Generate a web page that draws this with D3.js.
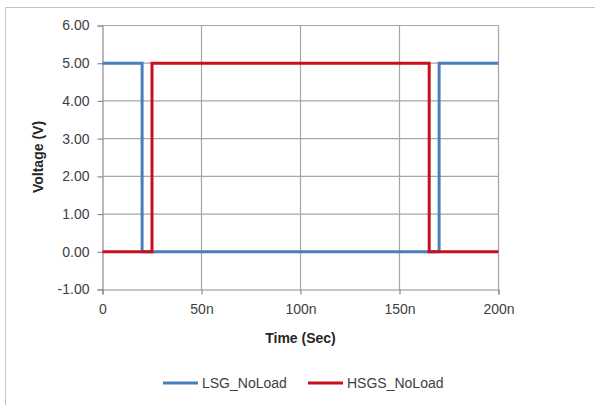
<!DOCTYPE html>
<html>
<head>
<meta charset="utf-8">
<script src="https://cdn.jsdelivr.net/npm/d3@7"></script>
<style>
  html, body { margin: 0; padding: 0; background: #fff; }
  svg { display: block; font-family: "Liberation Sans", Arial, sans-serif; }
</style>
</head>
<body>
<svg id="chart" width="595" height="405"></svg>
<script>
// Gate drive waveforms (time in ns, voltage in V)
const lsgTime    = [0, 20, 20, 170, 170, 200];
const lsgVolts   = [5, 5, 0, 0, 5, 5];
const hsgsTime   = [0, 25, 25, 165, 165, 200];
const hsgsVolts  = [0, 0, 5, 5, 0, 0];

const seriesNames  = ["LSG_NoLoad", "HSGS_NoLoad"];
const seriesColors = ["#4a7ebb", "#c8101c"];

const xTicks = [0, 50, 100, 150, 200];
const xTickLabels = ["0", "50n", "100n", "150n", "200n"];
const yTicks = [-1, 0, 1, 2, 3, 4, 5, 6];

const svg = d3.select("#chart");

// outer chart frame
svg.append("path")
  .attr("d", "M5.5,405 V7.5 H595")
  .attr("fill", "none")
  .attr("stroke", "#c4c4c4")
  .attr("stroke-width", 1);

const x = d3.scaleLinear().domain([0, 200]).range([102.5, 498.5]);
const y = d3.scaleLinear().domain([-1, 6]).range([289.5, 25.5]);

// gridlines
const grid = svg.append("g");
grid.selectAll("line.h").data(yTicks.filter(d => d > -1)).join("line")
  .attr("x1", x(0)).attr("x2", x(200))
  .attr("y1", d => y(d)).attr("y2", d => y(d))
  .attr("stroke", "#a6a6a6").attr("stroke-width", 1.2);
grid.selectAll("line.v").data(xTicks.filter(d => d > 0)).join("line")
  .attr("x1", d => x(d)).attr("x2", d => x(d))
  .attr("y1", y(-1)).attr("y2", y(6))
  .attr("stroke", "#a6a6a6").attr("stroke-width", 1.2);

// axes (plain hyphen for negative values)
const yAxis = d3.axisLeft(y).tickValues(yTicks)
  .tickFormat(d => (d < 0 ? "-" : "") + Math.abs(d).toFixed(2))
  .tickSize(5).tickPadding(8);
const gy = svg.append("g").attr("transform", `translate(${x(0)},0)`).call(yAxis);

const xAxis = d3.axisBottom(x).tickValues(xTicks)
  .tickFormat((d, i) => xTickLabels[i]).tickSize(5).tickPadding(10);
const gx = svg.append("g").attr("transform", `translate(0,${y(-1)})`).call(xAxis);

[gx, gy].forEach(g => {
  g.select(".domain").attr("stroke", "#8c8c8c").attr("stroke-width", 1.2);
  g.selectAll(".tick line").attr("stroke", "#8c8c8c").attr("stroke-width", 1.2);
  g.selectAll(".tick text")
    .attr("fill", "#404040")
    .style("font-size", "14px")
    .style("font-family", "'Liberation Sans', Arial, sans-serif");
});

// waveforms
const line = d3.line().x(d => x(d[0])).y(d => y(d[1]));
const series = [
  d3.zip(lsgTime, lsgVolts),
  d3.zip(hsgsTime, hsgsVolts)
];
svg.append("g").selectAll("path").data(series).join("path")
  .attr("d", line)
  .attr("fill", "none")
  .attr("stroke", (d, i) => seriesColors[i])
  .attr("stroke-width", 3)
  .attr("stroke-linejoin", "miter");

// axis titles
svg.append("text")
  .attr("x", (x(0) + x(200)) / 2).attr("y", 343)
  .attr("text-anchor", "middle")
  .attr("font-weight", "bold").attr("font-size", 14).attr("fill", "#262626")
  .text("Time (Sec)");

svg.append("text")
  .attr("transform", "translate(43,157) rotate(-90)")
  .attr("text-anchor", "middle")
  .attr("font-weight", "bold").attr("font-size", 14).attr("fill", "#262626")
  .text("Voltage (V)");

// legend
const legendX = [163, 308];
const leg = svg.append("g").selectAll("g").data(seriesNames).join("g")
  .attr("transform", (d, i) => `translate(${legendX[i]},383)`);
leg.append("line")
  .attr("x1", 0).attr("x2", 35).attr("y1", 0).attr("y2", 0)
  .attr("stroke", (d, i) => seriesColors[i]).attr("stroke-width", 3);
leg.append("text")
  .attr("x", 39).attr("y", 5)
  .attr("font-size", 14).attr("fill", "#404040")
  .text(d => d);
</script>
</body>
</html>
